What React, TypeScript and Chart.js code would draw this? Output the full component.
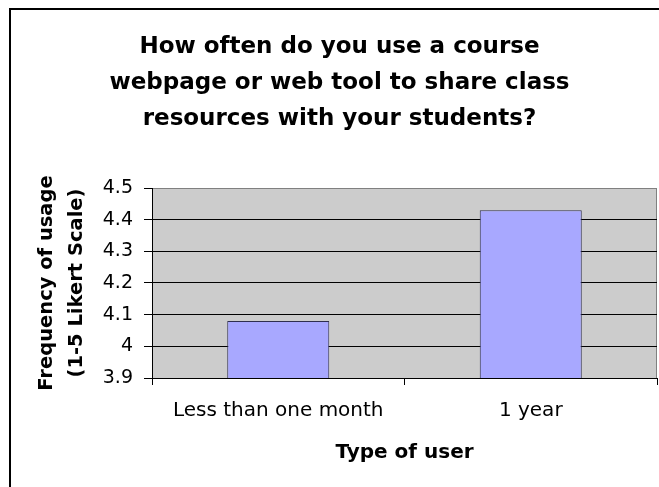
import React, { useEffect, useRef } from "react";
import { Chart, registerables } from "chart.js";

Chart.register(...registerables);

const titleLines = [
  "How often do you use a course",
  "webpage or web tool to share class",
  "resources with your students?",
];
const categories = ["Less than one month", "1 year"];
const values = [4.08, 4.43];
const yTickValues = [3.9, 4.0, 4.1, 4.2, 4.3, 4.4, 4.5];
const yTickLabels = ["3.9", "4", "4.1", "4.2", "4.3", "4.4", "4.5"];
const xAxisTitle = "Type of user";
const yAxisTitle = ["Frequency of usage", "(1-5 Likert Scale)"];

const FONT = "'DejaVu Sans', 'Liberation Sans', Arial, sans-serif";

const backgroundPlugin = {
  id: "bgPlugin",
  beforeDraw(chart: any) {
    const { ctx, chartArea } = chart;
    ctx.save();
    // outer chart border
    ctx.strokeStyle = "#000";
    ctx.lineWidth = 2;
    ctx.strokeRect(10, 9, 800, 700);
    // plot area fill
    ctx.fillStyle = "#CCCCCC";
    ctx.fillRect(
      chartArea.left,
      chartArea.top,
      chartArea.right - chartArea.left,
      chartArea.bottom - chartArea.top
    );
    // plot area border (gray)
    ctx.strokeStyle = "#808080";
    ctx.lineWidth = 1;
    ctx.beginPath();
    ctx.moveTo(chartArea.left, chartArea.top + 0.5);
    ctx.lineTo(chartArea.right - 0.5, chartArea.top + 0.5);
    ctx.lineTo(chartArea.right - 0.5, chartArea.bottom);
    ctx.stroke();
    ctx.restore();
  },
};

export default function App() {
  const canvasRef = useRef<HTMLCanvasElement | null>(null);

  useEffect(() => {
    if (!canvasRef.current) return;
    const chart = new Chart(canvasRef.current, {
      type: "bar",
      data: {
        labels: categories,
        datasets: [
          {
            data: values,
            backgroundColor: "#A8A8FF",
            borderColor: "#2E2E4E",
            borderWidth: 1,
            categoryPercentage: 1,
            barPercentage: 0.404,
          },
        ],
      },
      options: {
        animation: false,
        responsive: false,
        devicePixelRatio: 1,
        layout: { padding: { left: 22, right: 2, top: 0, bottom: 0 } },
        plugins: {
          legend: { display: false },
          tooltip: { enabled: false },
          title: {
            display: true,
            text: titleLines,
            color: "#000",
            font: { family: FONT, size: 23, weight: "bold", lineHeight: 36 / 23 },
            padding: { top: 29, bottom: 51 },
          },
        },
        scales: {
          x: {
            type: "category",
            offset: true,
            afterFit(scale: any) {
              scale.height = 109;
            },
            grid: {
              display: true,
              drawOnChartArea: false,
              drawTicks: true,
              tickLength: 7,
              color: "#000",
              offset: true,
            },
            border: { display: true, color: "#000", width: 1 },
            ticks: {
              color: "#000",
              font: { family: FONT, size: 20, lineHeight: 1.2 },
              padding: 14,
              maxRotation: 0,
            },
            title: {
              display: true,
              text: xAxisTitle,
              color: "#000",
              font: { family: FONT, size: 20, weight: "bold", lineHeight: 1.2 },
              padding: { top: 0, bottom: 22 },
            },
          },
          y: {
            type: "linear",
            min: 3.9,
            max: 4.5,
            beginAtZero: false,
            afterFit(scale: any) {
              scale.width = 130;
            },
            afterBuildTicks(scale: any) {
              scale.ticks = yTickValues.map((v) => ({ value: v }));
            },
            grid: {
              display: true,
              drawTicks: true,
              tickLength: 8,
              color: (c: any) =>
                c.tick && Math.abs(c.tick.value - 4.5) < 1e-6 ? "#808080" : "#000",
              tickColor: "#000",
              lineWidth: 1,
            },
            border: { display: true, color: "#000", width: 1 },
            ticks: {
              color: "#000",
              font: { family: FONT, size: 19 },
              padding: 11,
              callback: (_v: any, i: number) => yTickLabels[i],
            },
            title: {
              display: true,
              text: yAxisTitle,
              color: "#000",
              font: { family: FONT, size: 19.5, weight: "bold", lineHeight: 30 / 19.5 },
              padding: { top: 10, bottom: 0 },
            },
          },
        },
      },
      plugins: [backgroundPlugin],
    } as any);
    return () => chart.destroy();
  }, []);

  return (
    <div
      style={{
        position: "fixed",
        left: 0,
        top: 0,
        width: 659,
        height: 487,
        overflow: "hidden",
        background: "#fff",
      }}
    >
      <canvas
        ref={canvasRef}
        width={659}
        height={487}
        style={{ display: "block", width: 659, height: 487 }}
      />
    </div>
  );
}
